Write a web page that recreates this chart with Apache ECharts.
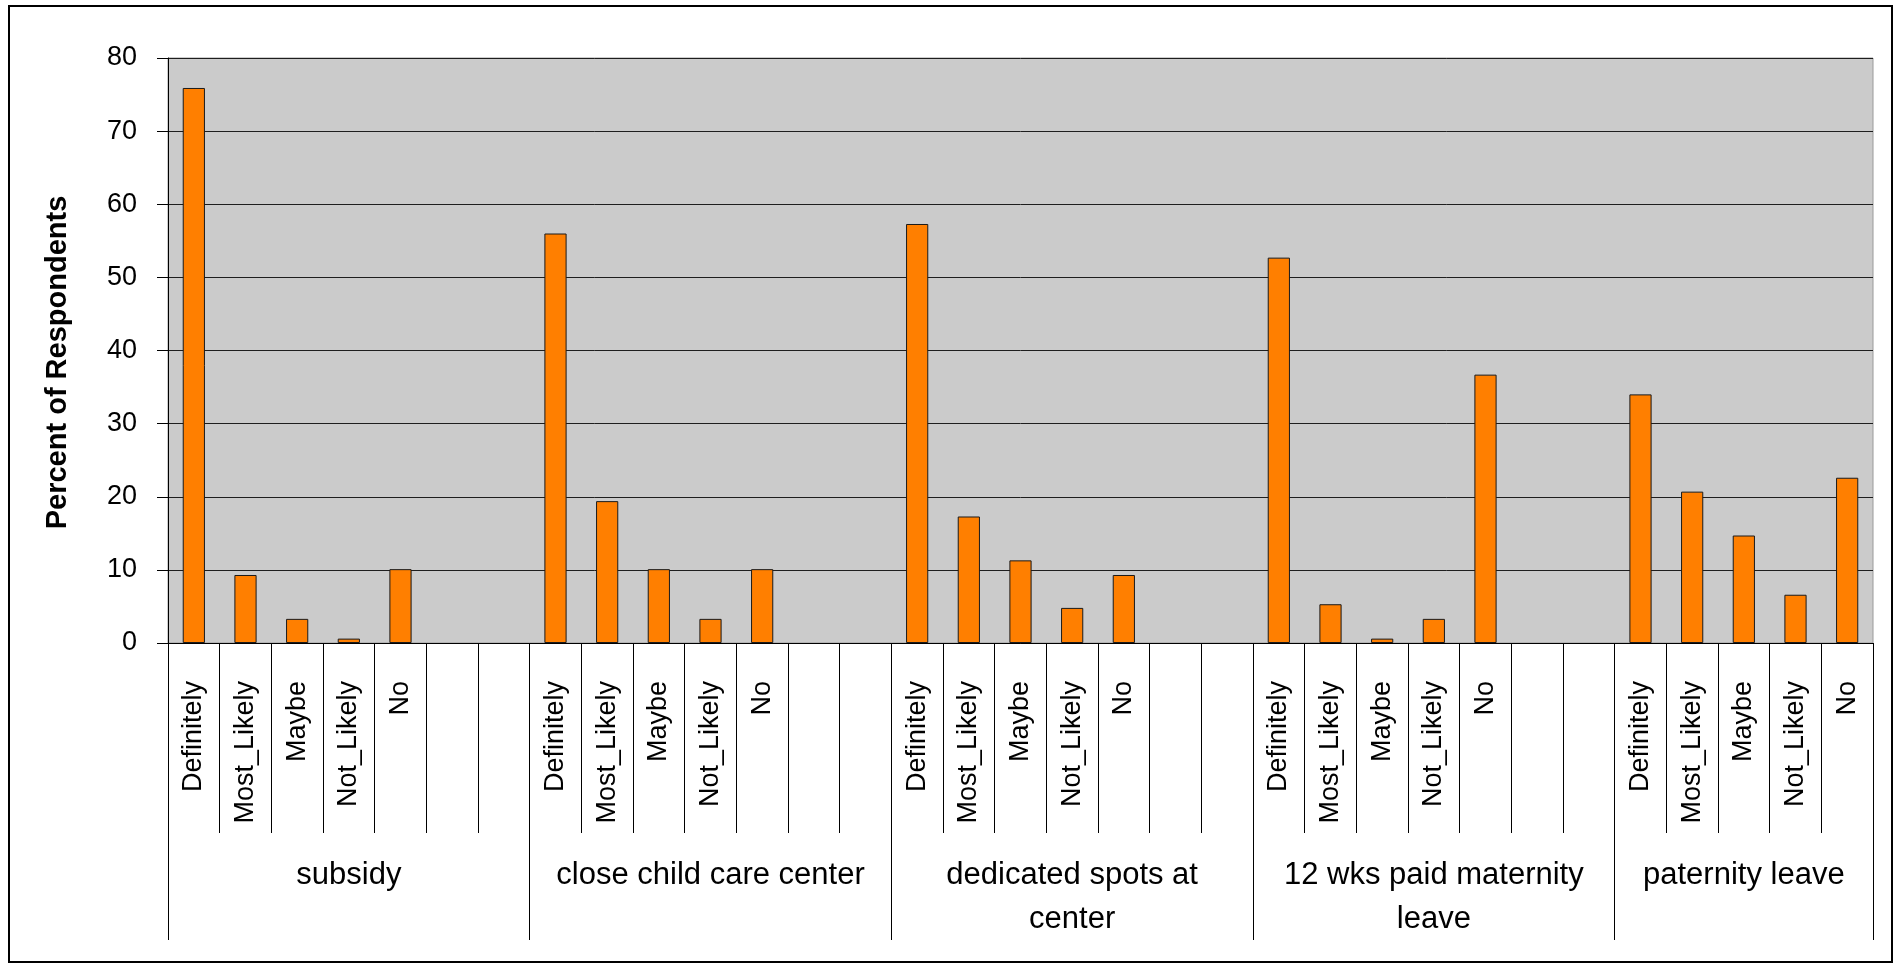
<!DOCTYPE html>
<html>
<head>
<meta charset="utf-8">
<script src="https://cdn.jsdelivr.net/npm/echarts@6/dist/echarts.min.js"></script>
<style>
html,body{margin:0;padding:0;background:#fff;}
#chart{width:1898px;height:967px;}
</style>
</head>
<body>
<div id="chart"></div>
<script>
// ---- data ----
const groups = ['subsidy', 'close child care center', 'dedicated spots at\ncenter', '12 wks paid maternity\nleave', 'paternity leave'];
const answers = ['Definitely', 'Most_Likely', 'Maybe', 'Not_Likely', 'No'];
const blanksAfterGroup = [2, 2, 2, 2, 0];
const subsidy = [75.9, 9.3, 3.3, 0.6, 10.1];
const closeChildCare = [56.0, 19.4, 10.1, 3.3, 10.1];
const dedicatedSpots = [57.3, 17.3, 11.3, 4.8, 9.3];
const maternityLeave = [52.7, 5.3, 0.6, 3.3, 36.7];
const paternityLeave = [34.0, 20.7, 14.7, 6.6, 22.6];
const yTicks = [0, 10, 20, 30, 40, 50, 60, 70, 80];

const groupValues = [subsidy, closeChildCare, dedicatedSpots, maternityLeave, paternityLeave];

// build category lists
const innerCats = [];
const outerCats = [];
const values = [];
const groupStartIdx = [];
const groupLabelIdx = [];
groups.forEach(function (g, gi) {
  const start = innerCats.length;
  groupStartIdx.push(start);
  const size = answers.length + blanksAfterGroup[gi];
  const mid = start + Math.floor(size / 2);
  groupLabelIdx.push(mid);
  for (let k = 0; k < size; k++) {
    const idx = start + k;
    innerCats.push(k < answers.length ? answers[k] : ' ');
    outerCats.push(idx === mid ? g : '');
    values.push(k < answers.length ? groupValues[gi][k] : null);
  }
});

const FONT = '"Liberation Sans", Arial, sans-serif';

const chart = echarts.init(document.getElementById('chart'), null, {renderer: 'canvas'});
chart.setOption({
  backgroundColor: '#ffffff',
  animation: false,
  graphic: [{
    type: 'rect',
    shape: {x: 9, y: 6, width: 1883, height: 956},
    style: {fill: 'none', stroke: '#000', lineWidth: 2},
    silent: true,
    z: 0
  }],
  grid: {
    left: 168, right: 25, top: 58, bottom: 324,
    show: true,
    backgroundColor: '#cbcbcb',
    borderColor: '#9a9a9a',
    borderWidth: 1
  },
  xAxis: [{
    type: 'category',
    data: innerCats,
    position: 'bottom',
    boundaryGap: true,
    axisLine: {show: true, lineStyle: {color: '#000', width: 1}},
    axisTick: {show: true, interval: 0, length: 190, lineStyle: {color: '#000', width: 1}},
    axisLabel: {
      interval: 0, rotate: 90, margin: 38,
      fontFamily: FONT, fontSize: 27, color: '#000'
    },
    splitLine: {show: false}
  }, {
    type: 'category',
    data: outerCats,
    position: 'bottom',
    boundaryGap: true,
    axisLine: {show: false},
    axisTick: {
      show: true, length: 297,
      interval: function (i) { return groupStartIdx.indexOf(i) >= 0; },
      lineStyle: {color: '#000', width: 1}
    },
    axisLabel: {
      interval: function (i) { return groupLabelIdx.indexOf(i) >= 0; },
      margin: 210,
      fontFamily: FONT, fontSize: 31, lineHeight: 44, color: '#000',
      verticalAlign: 'top'
    },
    splitLine: {show: false}
  }],
  yAxis: {
    type: 'value',
    min: yTicks[0], max: yTicks[yTicks.length - 1], interval: 10,
    name: 'Percent of Respondents',
    nameLocation: 'middle',
    nameGap: 96,
    nameTextStyle: {fontFamily: FONT, fontSize: 29, fontWeight: 'bold', color: '#000', padding: [0, 24, 0, 0]},
    axisLine: {show: true, lineStyle: {color: '#000', width: 1}},
    axisTick: {show: true, inside: false, length: 11, lineStyle: {color: '#000'}},
    axisLabel: {margin: 31, fontFamily: FONT, fontSize: 27, color: '#000'},
    splitLine: {show: true, lineStyle: {color: '#1e1e1e', width: 1}}
  },
  series: [{
    type: 'bar',
    xAxisIndex: 0,
    data: values,
    barWidth: '43%',
    itemStyle: {color: '#ff7f00', borderColor: '#1a1a1a', borderWidth: 1}
  }]
});
</script>
</body>
</html>
